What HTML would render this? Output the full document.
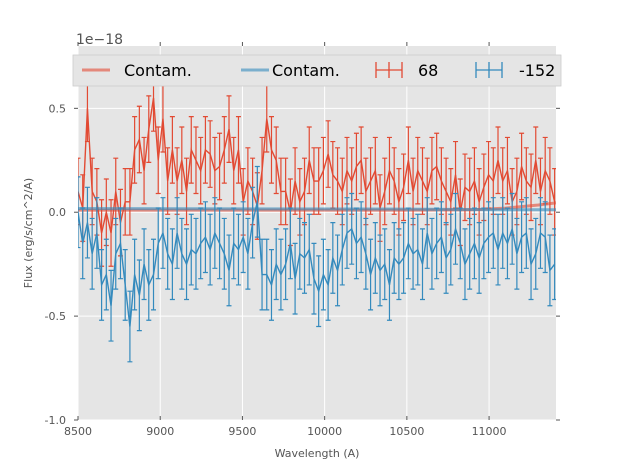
<!DOCTYPE html>
<html><head><meta charset="utf-8"><style>
body{margin:0;background:#fff;font-family:"Liberation Sans","DejaVu Sans",sans-serif}
svg text{font-family:"DejaVu Sans","Liberation Sans",sans-serif}
</style></head><body>
<svg id="chart" width="617" height="467" xmlns="http://www.w3.org/2000/svg">
<rect x="78" y="46" width="478" height="374" fill="#e5e5e5"/>
<g id="grid"></g>
<g id="marks"></g>
<g id="axes"></g>
<text x="76" y="44" font-size="14" fill="#555">1e−18</text>
<text x="317" y="457" font-size="11" fill="#555" text-anchor="middle">Wavelength (A)</text>
<text transform="translate(32,233) rotate(-90)" font-size="11" fill="#555" text-anchor="middle">Flux (erg/s/cm^2/A)</text>
<g>
<rect x="73" y="55" width="488" height="31" fill="#e5e5e5" stroke="#ccc" stroke-width="0.8"/>
<g><line x1="82" y1="70" x2="110" y2="70" stroke="#E24A33" stroke-opacity="0.6" stroke-width="3"/><text x="124" y="76" font-size="16">Contam.</text></g>
<g><line x1="241" y1="70" x2="269" y2="70" stroke="#348ABD" stroke-opacity="0.6" stroke-width="3"/><text x="272" y="76" font-size="16">Contam.</text></g>
<g stroke="#E24A33" stroke-width="1.3"><line x1="376" y1="70" x2="402" y2="70"/><line x1="389" y1="62" x2="389" y2="78"/><line x1="376" y1="62" x2="376" y2="78"/><line x1="402" y1="62" x2="402" y2="78"/><text x="418" y="76" font-size="16" stroke="none" fill="#000">68</text></g>
<g stroke="#348ABD" stroke-width="1.3"><line x1="476" y1="70" x2="502" y2="70"/><line x1="489" y1="62" x2="489" y2="78"/><line x1="476" y1="62" x2="476" y2="78"/><line x1="502" y1="62" x2="502" y2="78"/><text x="519" y="76" font-size="16" stroke="none" fill="#000">-152</text></g>
</g>
</svg>
<script>
const xStart = 8500, xStepA = 28.7;
const redFlux = [0.10,0.02,0.50,0.10,0.05,-0.10,0.00,
-0.10,0.10,-0.05,0.05,0.05,0.30,0.35,
0.20,0.40,0.55,0.25,0.45,0.15,0.30,
0.15,0.25,0.10,0.30,0.25,0.20,0.30,
0.28,0.20,0.22,0.30,0.40,0.20,0.30,
0.05,0.15,0.10,0.03,0.20,0.45,0.30,
0.25,0.10,0.10,0.00,0.15,0.05,0.10,
0.25,0.15,0.15,0.20,0.28,0.18,0.15,
0.10,0.20,0.15,0.22,0.25,0.10,0.15,
0.20,0.02,0.10,0.20,0.15,0.05,0.12,
0.25,0.10,0.20,0.15,0.10,0.20,0.22,
0.15,0.10,0.05,0.18,0.00,0.12,0.10,
0.15,0.05,0.12,0.18,0.15,0.25,0.15,
0.20,0.05,0.10,0.22,0.15,0.12,0.25,
0.10,0.20,0.15,0.05];
const blueFlux = [0.00,-0.15,-0.05,-0.20,-0.10,-0.35,-0.30,
-0.45,-0.20,-0.15,-0.35,-0.55,-0.30,-0.40,
-0.25,-0.35,-0.30,-0.15,-0.10,-0.20,-0.25,
-0.10,-0.20,-0.25,-0.18,-0.20,-0.15,-0.12,
-0.18,-0.10,-0.15,-0.20,-0.28,-0.15,-0.18,
-0.12,-0.20,-0.05,0.05,-0.30,-0.30,-0.35,
-0.25,-0.30,-0.25,-0.15,-0.32,-0.20,-0.22,
-0.18,-0.32,-0.38,-0.30,-0.35,-0.22,-0.28,
-0.18,-0.10,-0.08,-0.15,-0.12,-0.20,-0.30,
-0.22,-0.28,-0.25,-0.35,-0.22,-0.25,-0.22,
-0.15,-0.20,-0.18,-0.25,-0.10,-0.20,-0.15,
-0.12,-0.22,-0.18,-0.08,-0.15,-0.25,-0.20,
-0.15,-0.22,-0.15,-0.12,-0.10,-0.18,-0.10,
-0.15,-0.08,-0.20,-0.12,-0.10,-0.25,-0.20,
-0.10,-0.12,-0.28,-0.25];
const redErr = 0.16;
const blueErr = 0.17;
const contamX = [8500, 10500, 10900, 11100, 11300, 11407];
const contamRed = [0.01, 0.01, 0.012, 0.02, 0.035, 0.045];
const contamBlue = [0.018, 0.015, 0.013, 0.012, 0.012, 0.012];
const xTicks = [8500, 9000, 9500, 10000, 10500, 11000];
const yTicks = [-1.0, -0.5, 0.0, 0.5];

const X0=78, X1=556, Y0=46, Y1=420, xmin=8500, xmax=11407, ymin=-1.0, ymax=0.8;
const sx = v => X0 + (v - xmin) / (xmax - xmin) * (X1 - X0);
const sy = v => Y1 - (v - ymin) / (ymax - ymin) * (Y1 - Y0);
const NS="http://www.w3.org/2000/svg";
function mk(tag, attrs, parent){const e=document.createElementNS(NS,tag);for(const k in attrs)e.setAttribute(k,attrs[k]);parent.appendChild(e);return e;}
const grid=document.getElementById('grid'), axes=document.getElementById('axes'), marks=document.getElementById('marks');
const clip=mk('clipPath',{id:'pc'},document.getElementById('chart'));
mk('rect',{x:X0,y:Y0,width:X1-X0,height:Y1-Y0},clip);
marks.setAttribute('clip-path','url(#pc)');

xTicks.forEach(t=>{
  const gl=mk('line',{x1:sx(t),x2:sx(t),y1:Y0,y2:Y1,stroke:'#fff','stroke-width':1},grid);
  
  
  mk('line',{x1:sx(t),x2:sx(t),y1:Y1,y2:Y1-4,stroke:'#555'},axes);
  mk('line',{x1:sx(t),x2:sx(t),y1:Y0,y2:Y0-4,stroke:'#555'},axes);
  const tl=mk('text',{x:sx(t),y:Y1+15,'font-size':11,fill:'#555','text-anchor':'middle'},axes);
  tl.textContent=t;
  
  
});
yTicks.forEach(t=>{
  const gl=mk('line',{x1:X0,x2:X1,y1:sy(t),y2:sy(t),stroke:'#fff','stroke-width':1},grid);
  
  
  mk('line',{x1:X0-4,x2:X0,y1:sy(t),y2:sy(t),stroke:'#555'},axes);
  mk('line',{x1:X1,x2:X1+4,y1:sy(t),y2:sy(t),stroke:'#555'},axes);
  const tl=mk('text',{x:X0-12,y:sy(t)+4,'font-size':11,fill:'#555','text-anchor':'end'},axes);
  tl.textContent=t.toFixed(1);
  
  
});

function series(vals, err, color, name){
  const g=mk('g',{stroke:color,'stroke-width':1.2,fill:'none'},marks);
  
  
  let d='';
  vals.forEach((v,i)=>{
    const x=sx(xStart+i*xStepA), ya=sy(v+err), yb=sy(v-err);
    const eb=mk('path',{d:`M${x},${ya}V${yb}M${x-2.5},${ya}H${x+2.5}M${x-2.5},${yb}H${x+2.5}`},g);
    
    
    d+=(i?'L':'M')+x+','+sy(v);
  });
  const ln=mk('path',{d:d,'stroke-width':1.4},g);
  
  
}
function contam(vals,color,name){
  let d='';
  vals.forEach((v,i)=>{d+=(i?'L':'M')+sx(contamX[i])+','+sy(v);});
  const p=mk('path',{d:d,stroke:color,'stroke-opacity':0.6,'stroke-width':3,fill:'none'},marks);
  
  
}
contam(contamRed,'#E24A33','contam-red-line');
series(redFlux,redErr,'#E24A33','series-68');
series(blueFlux,blueErr,'#348ABD','series-152');
contam(contamBlue,'#348ABD','contam-blue-line');
</script>
</body></html>
